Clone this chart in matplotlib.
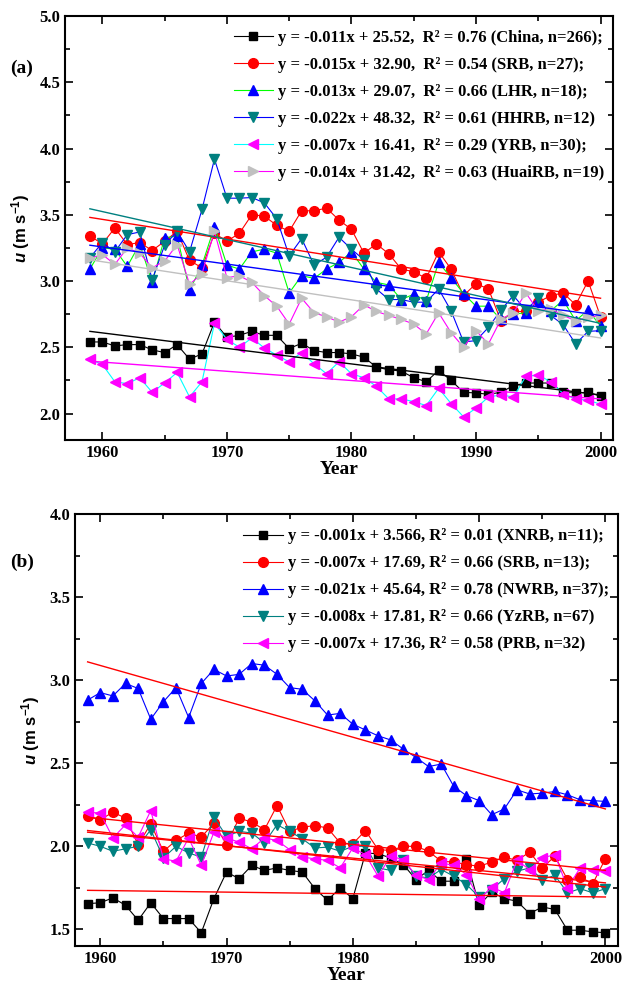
import numpy as np
import matplotlib
matplotlib.use("Agg")
import matplotlib.pyplot as plt
from matplotlib.ticker import MultipleLocator

plt.rcParams['font.family'] = ['Liberation Serif', 'DejaVu Serif']
plt.rcParams['font.weight'] = 'bold'
# mathtext only used in the y label, which is sans-serif in the original
plt.rcParams['mathtext.fontset'] = 'custom'
plt.rcParams['mathtext.rm'] = 'Liberation Sans:bold'
plt.rcParams['mathtext.it'] = 'Liberation Sans:bold:italic'
plt.rcParams['mathtext.bf'] = 'Liberation Sans:bold'

years = np.arange(1959, 2001)

# ---- panel (a) ----
a_china = [2.54, 2.54, 2.51, 2.52, 2.52, 2.48, 2.46, 2.52, 2.41, 2.45,
           2.69, 2.575, 2.59, 2.62, 2.59, 2.59, 2.49, 2.53, 2.475, 2.46,
           2.46, 2.45, 2.425, 2.35, 2.33, 2.32, 2.27, 2.24, 2.325, 2.25,
           2.16, 2.155, 2.145, 2.16, 2.21, 2.23, 2.23, 2.23, 2.16, 2.155,
           2.16, 2.13]
a_srb = [3.34, 3.28, 3.40, 3.275, 3.29, 3.23, 3.30, 3.375, 3.155, 3.10,
         3.36, 3.30, 3.36, 3.50, 3.49, 3.42, 3.375, 3.53, 3.53, 3.55,
         3.46, 3.39, 3.21, 3.28, 3.205, 3.09, 3.07, 3.02, 3.22, 3.09,
         2.89, 2.98, 2.94, 2.70, 2.77, 2.77, 2.84, 2.89, 2.91, 2.82,
         3.0, 2.73]
a_lhr = [3.09, 3.25, 3.24, 3.11, 3.28, 2.99, 3.325, 3.34, 2.93, 3.12,
         3.41, 3.12, 3.09, 3.22, 3.24, 3.21, 2.91, 3.04, 3.02, 3.09,
         3.14, 3.22, 3.09, 2.99, 2.97, 2.86, 2.90, 2.85, 3.14, 3.025,
         2.905, 2.81, 2.81, 2.71, 2.75, 2.76, 2.84, 2.775, 2.855, 2.70,
         2.78, 2.66]
a_hhrb = [3.175, 3.29, 3.22, 3.35, 3.37, 3.01, 3.27, 3.375, 3.22, 3.54,
          3.92, 3.625, 3.625, 3.63, 3.59, 3.47, 3.19, 3.32, 3.12, 3.18,
          3.33, 3.24, 3.16, 2.94, 2.86, 2.86, 2.84, 2.84, 2.94, 2.775,
          2.54, 2.55, 2.65, 2.78, 2.89, 2.78, 2.87, 2.74, 2.67, 2.525,
          2.62, 2.625]
a_yrb = [2.41, 2.37, 2.24, 2.225, 2.27, 2.16, 2.23, 2.31, 2.125, 2.24,
         2.68, 2.56, 2.50, 2.57, 2.495, 2.44, 2.39, 2.46, 2.375, 2.30,
         2.39, 2.30, 2.27, 2.205, 2.11, 2.11, 2.09, 2.06, 2.19, 2.075,
         1.975, 2.04, 2.125, 2.14, 2.125, 2.28, 2.29, 2.24, 2.15, 2.11,
         2.10, 2.07]
a_huai = [3.17, 3.20, 3.125, 3.25, 3.21, 3.10, 3.15, 3.275, 2.975, 3.055,
          3.375, 3.025, 3.04, 2.99, 2.89, 2.81, 2.675, 2.87, 2.76, 2.73,
          2.69, 2.73, 2.82, 2.77, 2.74, 2.71, 2.675, 2.60, 2.76, 2.61,
          2.50, 2.625, 2.525, 2.71, 2.76, 2.91, 2.775, 2.79, 2.74, 2.70,
          2.725, 2.74]
# fitted trend lines, values at 1959 and 2000
a_trend = {"China": (2.62, 2.14), "SRB": (3.48, 2.87), "LHR": (3.27, 2.74),
           "HHRB": (3.545, 2.68), "YRB": (2.395, 2.11), "HuaiRB": (3.16, 2.57)}
a_labels = [
    "y = -0.011x + 25.52,  R\u00b2 = 0.76 (China, n=266);",
    "y = -0.015x + 32.90,  R\u00b2 = 0.54 (SRB, n=27);",
    "y = -0.013x + 29.07,  R\u00b2 = 0.66 (LHR, n=18);",
    "y = -0.022x + 48.32,  R\u00b2 = 0.61 (HHRB, n=12)",
    "y = -0.007x + 16.41,  R\u00b2 = 0.29 (YRB, n=30);",
    "y = -0.014x + 31.42,  R\u00b2 = 0.63 (HuaiRB, n=19)",
]

# ---- panel (b) ----
b_xnrb = [1.655, 1.66, 1.69, 1.645, 1.555, 1.66, 1.565, 1.565, 1.565, 1.48,
          1.685, 1.845, 1.805, 1.885, 1.855, 1.87, 1.855, 1.845, 1.745, 1.675,
          1.75, 1.685, 1.96, 1.955, 1.93, 1.89, 1.80, 1.855, 1.79, 1.79,
          1.925, 1.645, 1.725, 1.685, 1.67, 1.595, 1.635, 1.62, 1.495, 1.495,
          1.485, 1.48]
b_srb = [2.18, 2.16, 2.205, 2.17, 2.01, 2.135, 1.97, 2.035, 2.08, 2.055,
         2.14, 2.01, 2.17, 2.145, 2.10, 2.245, 2.09, 2.115, 2.125, 2.11,
         2.02, 2.015, 2.095, 1.98, 1.975, 2.0, 2.0, 1.97, 1.91, 1.905,
         1.89, 1.88, 1.905, 1.935, 1.915, 1.965, 1.87, 1.94, 1.80, 1.815,
         1.775, 1.925]
b_nwrb = [2.88, 2.925, 2.905, 2.98, 2.95, 2.765, 2.87, 2.955, 2.775, 2.98,
          3.065, 3.025, 3.035, 3.10, 3.09, 3.035, 2.955, 2.945, 2.875, 2.79,
          2.80, 2.735, 2.70, 2.665, 2.64, 2.585, 2.535, 2.48, 2.495, 2.36,
          2.305, 2.275, 2.19, 2.225, 2.34, 2.315, 2.32, 2.33, 2.31, 2.28,
          2.275, 2.27]
b_yzrb = [2.02, 2.0, 1.97, 1.985, 2.0, 2.10, 1.93, 2.0, 1.96, 1.935,
          2.175, 2.06, 2.09, 2.08, 2.02, 2.13, 2.09, 2.045, 1.99, 1.995,
          1.97, 2.0, 2.0, 1.87, 1.855, 1.92, 1.82, 1.81, 1.86, 1.82,
          1.77, 1.695, 1.74, 1.805, 1.85, 1.87, 1.80, 1.825, 1.72, 1.745,
          1.72, 1.745]
b_prb = [2.205, 2.20, 2.05, 2.13, 2.055, 2.215, 1.925, 1.91, 2.05, 1.885,
         2.085, 2.05, 2.025, 1.985, 2.05, 2.035, 1.98, 1.935, 1.925, 1.915,
         1.87, 1.99, 1.95, 1.82, 1.94, 1.92, 1.825, 1.80, 1.90, 1.885,
         1.83, 1.68, 1.755, 1.72, 1.915, 1.86, 1.93, 1.95, 1.75, 1.87,
         1.855, 1.85]
b_trend = {"XNRB": (1.735, 1.695), "SRB": (2.175, 1.855), "NWRB": (3.11, 2.225),
           "YzRB": (2.095, 1.755), "PRB": (2.085, 1.78)}
b_labels = [
    "y = -0.001x + 3.566, R\u00b2 = 0.01 (XNRB, n=11);",
    "y = -0.007x + 17.69, R\u00b2 = 0.66 (SRB, n=13);",
    "y = -0.021x + 45.64, R\u00b2 = 0.78 (NWRB, n=37);",
    "y = -0.008x + 17.81, R\u00b2 = 0.66 (YzRB, n=67)",
    "y = -0.007x + 17.36, R\u00b2 = 0.58 (PRB, n=32)",
]

TEAL = "#008080"
GRAY = "#c0c0c0"
MAG = "#ff00ff"

fig = plt.figure(figsize=(6.3, 9.99), dpi=100)
ax1 = fig.add_axes([65/630, 1-440/999, 548/630, 424/999])
ax2 = fig.add_axes([75/630, 1-946/999, 543/630, 432/999])


def style_axis(ax, xlim, ylim, ymajor):
    ax.set_xlim(*xlim)
    ax.set_ylim(*ylim)
    ax.xaxis.set_major_locator(MultipleLocator(10))
    ax.xaxis.set_minor_locator(MultipleLocator(5))
    ax.yaxis.set_major_locator(MultipleLocator(ymajor))
    ax.yaxis.set_minor_locator(MultipleLocator(ymajor/2))
    ax.yaxis.set_major_formatter(plt.FormatStrFormatter("%.1f"))
    ax.tick_params(which="both", direction="in", top=True, right=True,
                   width=1.2, labelsize=12)
    ax.tick_params(which="major", length=6)
    ax.tick_params(which="minor", length=3.5)
    for s in ax.spines.values():
        s.set_linewidth(1.5)
    ax.set_xlabel("Year", fontsize=14, fontweight="bold", labelpad=0)
    ax.set_ylabel(r"$u$ (m s$^{-1}$)", fontsize=12, fontweight="bold",
                  family="Liberation Sans", labelpad=5)


def add_legend(ax, handles, hl):
    ax.legend(handles=handles, loc="upper right", bbox_to_anchor=(1.0, 0.988),
              frameon=False, fontsize=12, handlelength=hl, handletextpad=0.3,
              labelspacing=0.66, borderaxespad=0.15)


# panel (a)
series_a = [
    (a_china, "black", "black", "s", 5.5, "China"),
    (a_srb, "red", "red", "o", 7, "SRB"),
    (a_lhr, "#00ff00", "blue", "^", 7, "LHR"),
    (a_hhrb, "blue", TEAL, "v", 7, "HHRB"),
    (a_yrb, "cyan", MAG, "<", 7, "YRB"),
    (a_huai, MAG, GRAY, ">", 7, "HuaiRB"),
]
trend_col_a = {"China": "black", "SRB": "red", "LHR": "blue",
               "HHRB": TEAL, "YRB": MAG, "HuaiRB": GRAY}
handles = []
for (vals, lc, mc, mk, ms, name), lab in zip(series_a, a_labels):
    h, = ax1.plot(years, vals, color=lc, lw=0.8, marker=mk, ms=ms,
                  mfc=mc, mec=mc, label=lab)
    handles.append(h)
for name, (y0, y1) in a_trend.items():
    ax1.plot([years[0], years[-1]], [y0, y1], color=trend_col_a[name], lw=1.0)
style_axis(ax1, (1957, 2001), (1.8, 5.0), 0.5)
add_legend(ax1, handles, 2.3)
fig.text(10/630, 1-68/999, "(a)", fontsize=14, fontweight="bold", va="center")

# panel (b)
series_b = [
    (b_xnrb, "black", "s", 5.5),
    (b_srb, "red", "o", 7),
    (b_nwrb, "blue", "^", 7),
    (b_yzrb, TEAL, "v", 7),
    (b_prb, MAG, "<", 7),
]
handles = []
for (vals, c, mk, ms), lab in zip(series_b, b_labels):
    h, = ax2.plot(years, vals, color=c, lw=0.8, marker=mk, ms=ms,
                  mfc=c, mec=c, label=lab)
    handles.append(h)
for name, (y0, y1) in b_trend.items():
    ax2.plot([years[0], years[-1]], [y0, y1], color="red", lw=1.0)
style_axis(ax2, (1958, 2001), (1.4, 4.0), 0.5)
add_legend(ax2, handles, 2.4)
fig.text(10/630, 1-562/999, "(b)", fontsize=14, fontweight="bold", va="center")

fig.savefig("out.png", dpi=100)
